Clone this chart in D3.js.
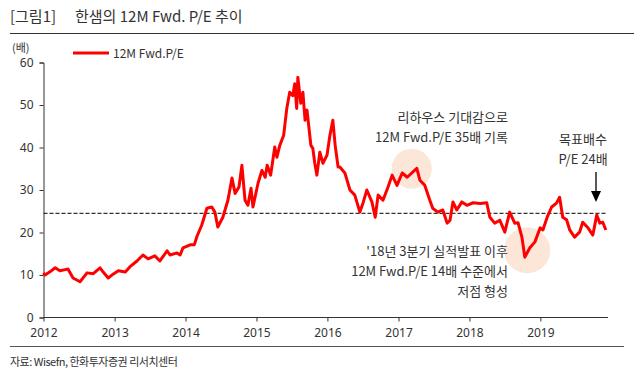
<!DOCTYPE html>
<html>
<head>
<meta charset="utf-8">
<script src="https://cdn.jsdelivr.net/npm/d3@7"></script>
<style>
  body { margin: 0; background: #fff; }
  svg text { font-family: "Noto Sans CJK KR", "Noto Sans", sans-serif; fill: #333; }
</style>
</head>
<body>
<div class="chart"></div>
<script>
// Dates and 12M Fwd. P/E values
const dates = [
  "2012-01-01","2012-01-09","2012-02-05","2012-03-01","2012-03-25","2012-04-16","2012-05-06","2012-06-01",
  "2012-07-07","2012-08-12","2012-09-13","2012-10-18","2012-11-03","2012-11-29","2012-12-24",
  "2013-01-20","2013-02-25","2013-03-20","2013-04-26","2013-05-27","2013-06-22","2013-07-27","2013-08-22",
  "2013-09-28","2013-10-13","2013-11-18","2013-12-04","2013-12-19",
  "2014-01-25","2014-02-15","2014-02-28","2014-03-25","2014-04-21","2014-05-16","2014-06-01","2014-06-16",
  "2014-07-12","2014-08-07","2014-08-28","2014-09-13","2014-10-03","2014-10-18","2014-11-03","2014-11-18",
  "2014-12-04","2014-12-14",
  "2015-01-09","2015-01-29","2015-02-15","2015-02-25","2015-03-15","2015-04-05","2015-04-16","2015-05-01",
  "2015-05-21","2015-06-06","2015-06-21","2015-07-07","2015-07-17","2015-07-27","2015-08-02","2015-08-17",
  "2015-08-28","2015-09-08","2015-09-18","2015-10-08","2015-10-18","2015-10-28","2015-11-08","2015-11-23",
  "2015-12-09","2015-12-30",
  "2016-01-14","2016-01-29","2016-02-10","2016-02-25","2016-03-05","2016-03-31","2016-04-26","2016-05-21",
  "2016-06-16","2016-07-02","2016-07-22","2016-08-17","2016-09-03","2016-09-18","2016-10-13","2016-11-08",
  "2016-11-29","2016-12-24",
  "2017-01-20","2017-02-15","2017-03-10","2017-04-05","2017-04-21","2017-05-16","2017-06-11","2017-06-26",
  "2017-07-22","2017-08-17","2017-09-08","2017-09-23","2017-10-08","2017-10-28","2017-11-23","2017-12-19",
  "2018-01-20","2018-02-25","2018-03-31","2018-04-16","2018-05-11","2018-06-06","2018-07-02","2018-07-27",
  "2018-08-22","2018-09-08","2018-09-28","2018-10-13","2018-11-08","2018-12-04","2018-12-31",
  "2019-01-14","2019-02-05","2019-02-28","2019-03-25","2019-04-10","2019-04-26","2019-05-16","2019-06-01",
  "2019-06-26","2019-07-22","2019-08-07","2019-09-03","2019-09-28","2019-10-18","2019-11-03","2019-11-18",
  "2019-12-04"
]
const peValues = [
  10.5,10.0,10.8,11.7,11.0,11.2,11.4,9.3,
  8.4,10.5,10.3,11.7,10.7,9.3,10.2,
  11.0,10.7,11.9,13.3,14.7,13.8,14.5,13.3,
  15.7,14.7,15.2,14.7,16.4,
  17.1,17.1,19.0,21.7,25.7,26.0,24.8,21.3,
  23.6,27.6,32.8,29.2,30.7,35.8,27.6,26.4,
  30.4,26.0,
  31.6,34.6,33.0,35.8,33.5,40.1,37.7,40.5,
  42.9,49.2,53.0,52.2,55.0,49.2,56.5,50.4,
  53.0,46.4,48.8,40.5,39.8,36.3,33.5,38.9,
  36.3,38.2,
  42.9,46.4,40.5,35.4,35.4,34.0,30.0,28.8,
  24.8,26.9,30.0,27.2,23.6,28.8,27.6,30.7,
  33.5,31.1,
  34.0,33.0,34.0,35.1,32.3,31.1,27.6,25.7,
  24.8,25.3,22.2,22.9,27.2,25.3,27.2,26.4,
  27.0,26.8,27.0,23.6,22.2,22.9,20.1,24.8,
  22.2,22.3,18.9,14.2,16.4,17.8,21.1,
  20.6,23.6,26.0,26.9,28.3,23.6,23.0,20.6,
  18.9,20.1,22.4,21.1,19.4,24.1,22.2,22.4,
  20.6
]
const targetPE = 24.5
const yTicks = [0, 10, 20, 30, 40, 50, 60]
const xTickYears = [2012, 2013, 2014, 2015, 2016, 2017, 2018, 2019]
const seriesName = "12M Fwd.P/E"

const parse = d3.timeParse("%Y-%m-%d")
const data = dates.map((d, i) => ({date: parse(d), value: peValues[i]}))

const W = 634, H = 375
const svg = d3.select(".chart").append("svg")
    .attr("width", W)
    .attr("height", H)

// Scales
const x = d3.scaleTime()
    .domain([new Date(2012, 0, 1), new Date(2019, 11, 15)])
    .range([43.5, 608])
const y = d3.scaleLinear()
    .domain([0, 60])
    .range([317.5, 62.5])

// Title and rules
svg.append("text").attr("x", 10).attr("y", 22).style("font-size", "15px").text("[그림1]")
svg.append("text").attr("x", 75).attr("y", 22).style("font-size", "15px").text("한샘의 12M Fwd. P/E 추이")
svg.append("line").attr("x1", 10).attr("x2", 634).attr("y1", 33.5).attr("y2", 33.5)
    .attr("stroke", "#333").attr("stroke-width", 1)
svg.append("line").attr("x1", 10).attr("x2", 624).attr("y1", 346.5).attr("y2", 346.5)
    .attr("stroke", "#555").attr("stroke-width", 1)
svg.append("text").attr("x", 10).attr("y", 366).style("font-size", "11px").style("letter-spacing", "-0.5px")
    .text("자료: Wisefn, 한화투자증권 리서치센터")

// Unit label and legend
svg.append("text").attr("x", 12).attr("y", 52).style("font-size", "11px").text("(배)")
svg.append("line").attr("x1", 73).attr("x2", 109).attr("y1", 53).attr("y2", 53)
    .attr("stroke", "#ff0000").attr("stroke-width", 3)
svg.append("text").attr("x", 113).attr("y", 57.5).style("font-size", "12px").text(seriesName)

// Highlight circles (behind the line)
svg.append("circle").attr("cx", x(parse("2017-03-10"))).attr("cy", y(35)).attr("r", 20)
    .attr("fill", "#fbe3d4").attr("opacity", 0.9)
svg.append("circle").attr("cx", x(parse("2018-10-25"))).attr("cy", y(15.8)).attr("r", 23)
    .attr("fill", "#fbe3d4").attr("opacity", 0.9)

// Axes
const yAxis = d3.axisLeft(y).tickValues(yTicks).tickSize(4).tickPadding(6)
const xAxis = d3.axisBottom(x)
    .tickValues(xTickYears.map(yr => new Date(yr, 0, 1)))
    .tickFormat(d3.timeFormat("%Y"))
    .tickSize(4).tickPadding(7)

const gy = svg.append("g").attr("transform", `translate(${x.range()[0]},0)`).call(yAxis)
const gx = svg.append("g").attr("transform", `translate(0,${y(0)})`).call(xAxis)
gx.select(".domain").attr("d", `M${x.range()[0]},0H${x.range()[1]}`)
for (const g of [gx, gy]) {
    g.select(".domain").attr("stroke", "#333")
    g.selectAll(".tick line").attr("stroke", "#333")
    g.selectAll(".tick text").style("font-size", "12px").style("font-family", "'Noto Sans', sans-serif").attr("fill", "#333")
}

// Target multiple line
svg.append("line")
    .attr("x1", x.range()[0]).attr("x2", 606)
    .attr("y1", y(targetPE)).attr("y2", y(targetPE))
    .attr("stroke", "#333").attr("stroke-width", 1.2).attr("stroke-dasharray", "4,2")

// P/E line
const line = d3.line().x(d => x(d.date)).y(d => y(d.value))
svg.append("path").datum(data)
    .attr("fill", "none").attr("stroke", "#ff0000").attr("stroke-width", 3)
    .attr("stroke-linejoin", "round")
    .attr("d", line)

// Annotations
const ann = (lines, xPos, y0, anchor) => {
    lines.forEach((t, i) => {
        svg.append("text").attr("x", xPos).attr("y", y0 + i * 20)
            .attr("text-anchor", anchor).style("font-size", "13px").text(t)
    })
}
ann(["리하우스 기대감으로", "12M Fwd.P/E 35배 기록"], 508, 122, "end")
ann(["'18년 3분기 실적발표 이후", "12M Fwd.P/E 14배 수준에서", "저점 형성"], 508, 256, "end")
ann(["목표배수", "P/E 24배"], 583, 144, "middle")

// Arrow to the target line
svg.append("line").attr("x1", 596).attr("x2", 596).attr("y1", 172).attr("y2", 192)
    .attr("stroke", "#000").attr("stroke-width", 1.3)
svg.append("path").attr("d", "M591,191L601,191L596,202Z").attr("fill", "#000")
</script>
</body>
</html>
